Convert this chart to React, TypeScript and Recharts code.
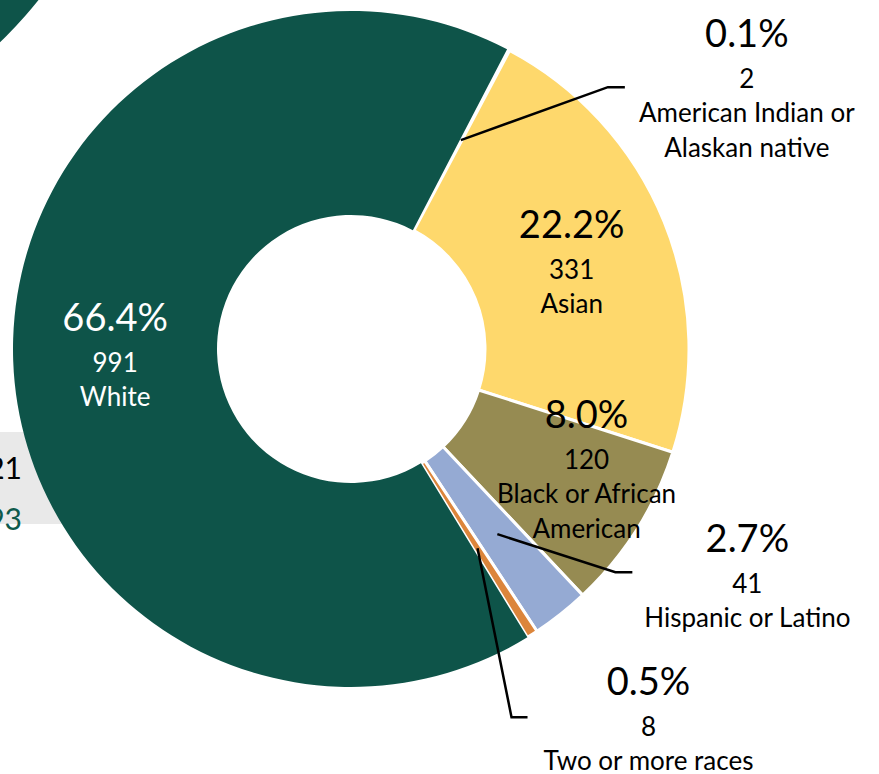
import { PieChart, Pie, Cell } from 'recharts';

// enrolment by race / ethnicity
const CATEGORIES = [
  'American Indian or Alaskan native',
  'Asian',
  'Black or African American',
  'Hispanic or Latino',
  'Two or more races',
  'White'
];
const COUNTS = [2, 331, 120, 41, 8, 991];
const LABEL_LINES = [
  ['American Indian or', 'Alaskan native'],
  ['Asian'],
  ['Black or African', 'American'],
  ['Hispanic or Latino'],
  ['Two or more races'],
  ['White']
];
// the 0.1% sliver shows as a white gap in the original
const COLORS = ['#ffffff', '#fed86c', '#968b52', '#95aad3', '#dc853b', '#0e5449'];

// fragments of the neighbouring panel that peek into the frame
const NEIGHBOR = [{ name: 'other', value: 1 }];
const SIDE_NUMBERS = ['21', '93'];

const TOTAL = COUNTS.reduce((s, v) => s + v, 0);
const chartData = CATEGORIES.map((name, i) => ({ name, value: COUNTS[i] }));

// label placement, relative to the middle of each ring segment
const LABEL_LAYOUT: { dx: number; dy: number; elbow?: [number, number]; tail?: number }[] = [
  { dx: 286, dy: -93, elbow: [147, -53], tail: 17 },
  { dx: 2, dy: -22 },
  { dx: 36, dy: -47 },
  { dx: 250, dy: 18, elbow: [118, 38], tail: 17 },
  { dx: 171, dy: 147, elbow: [34, 169], tail: 16 },
  { dx: 0, dy: -26 }
];

const RADIAN = Math.PI / 180;
const FONT = 'Lato, sans-serif';

const renderLabel = (props: any) => {
  const { cx, cy, midAngle, innerRadius, outerRadius, index, value } = props;
  const r = (innerRadius + outerRadius) / 2;
  const mx = cx + r * Math.cos(-midAngle * RADIAN);
  const my = cy + r * Math.sin(-midAngle * RADIAN);
  const layout = LABEL_LAYOUT[index];
  const tx = mx + layout.dx;
  const ty = my + layout.dy;
  const color = index === 5 ? '#ffffff' : '#000000';
  const pct = ((value / TOTAL) * 100).toFixed(1) + '%';

  let line = null;
  if (layout.elbow) {
    const ex = mx + layout.elbow[0];
    const ey = my + layout.elbow[1];
    line = (
      <polyline
        points={`${mx},${my} ${ex},${ey} ${ex + (layout.tail || 0)},${ey}`}
        fill="none"
        stroke="#000"
        strokeWidth={2.5}
      />
    );
  }

  return (
    <g key={`label-${index}`}>
      {line}
      <text x={tx} y={ty} textAnchor="middle" fill={color} fontSize={38} fontFamily={FONT}>
        {pct}
      </text>
      <text x={tx} y={ty + 41} textAnchor="middle" fill={color} fontSize={26} fontFamily={FONT}>
        {value}
      </text>
      {LABEL_LINES[index].map((t, i) => (
        <text
          key={i}
          x={tx}
          y={ty + 75 + 35 * i}
          textAnchor="middle"
          fill={color}
          fontSize={26}
          fontFamily={FONT}
        >
          {t}
        </text>
      ))}
    </g>
  );
};

export default function App() {
  return (
    <div style={{ position: 'absolute', left: 0, top: 0, width: 879, height: 774, background: '#fff', overflow: 'hidden' }}>
      {/* grey panel behind the ring */}
      <div style={{ position: 'absolute', left: 0, top: 432, width: 130, height: 92, background: '#e9e9e9' }} />
      <svg width={60} height={774} style={{ position: 'absolute', left: 0, top: 0 }}>
        <text x={22} y={479} textAnchor="end" fontSize={30} fontFamily={FONT} fill="#000">{SIDE_NUMBERS[0]}</text>
        <text x={22} y={530} textAnchor="end" fontSize={30} fontFamily={FONT} fill="#0e5a4c">{SIDE_NUMBERS[1]}</text>
      </svg>
      <div style={{ position: 'absolute', left: 0, top: 0 }}>
        <PieChart width={879} height={774} margin={{ top: 0, right: 0, bottom: 0, left: 0 }}>
          <Pie
            data={NEIGHBOR}
            dataKey="value"
            cx={-300}
            cy={-270}
            innerRadius={0}
            outerRadius={433}
            fill="#0e5449"
            stroke="none"
            isAnimationActive={false}
          />
          <Pie
            data={chartData}
            dataKey="value"
            nameKey="name"
            cx={351}
            cy={349}
            innerRadius={134}
            outerRadius={338}
            startAngle={62.5}
            endAngle={-297.5}
            label={renderLabel}
            labelLine={false}
            isAnimationActive={false}
          >
            {chartData.map((entry, index) => (
              <Cell
                key={`cell-${index}`}
                fill={COLORS[index]}
                stroke={index === 5 ? 'none' : '#ffffff'}
                strokeWidth={3}
              />
            ))}
          </Pie>
        </PieChart>
      </div>
    </div>
  );
}
